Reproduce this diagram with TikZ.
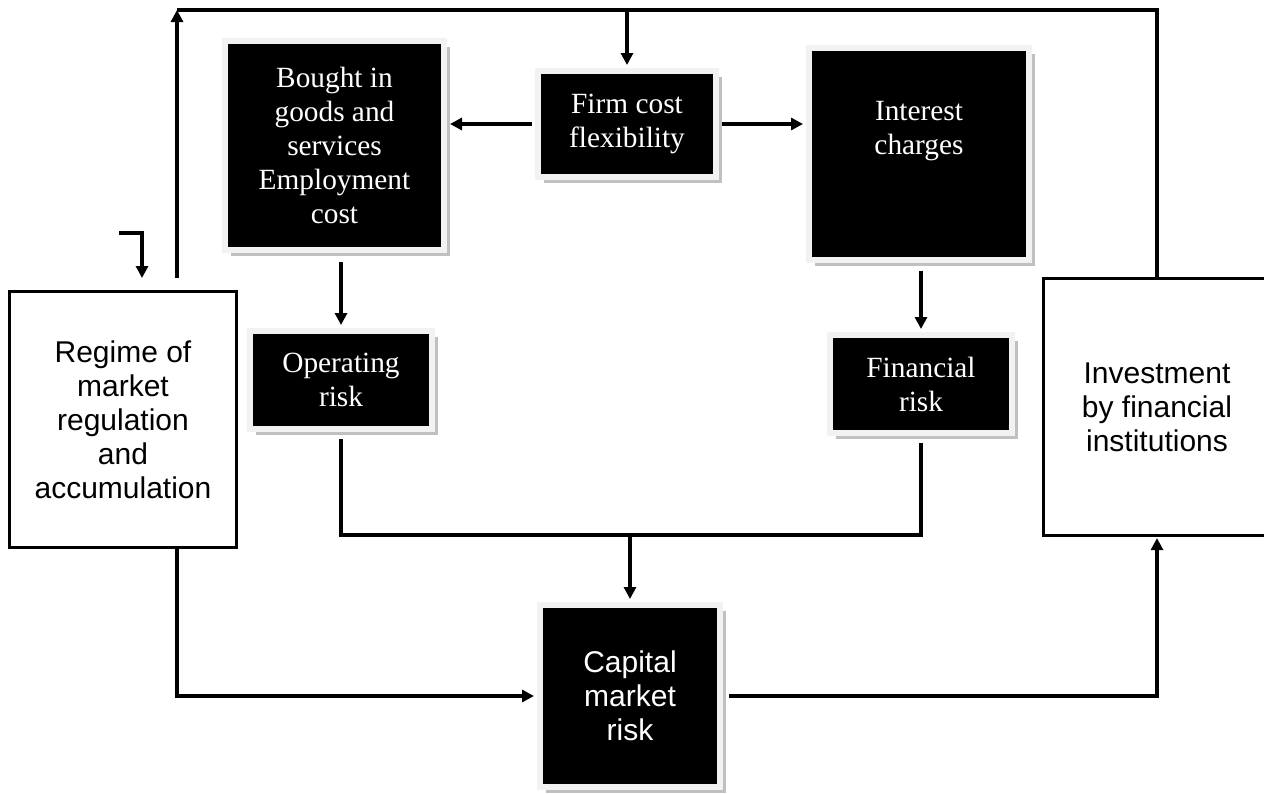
\documentclass[tikz,border=0pt]{standalone}
\usepackage{fontspec}
\setmainfont{Liberation Serif}
\setsansfont{Liberation Sans}
\usepackage{xcolor}
\usepackage{tikz}
\usetikzlibrary{arrows.meta}
\usetikzlibrary{shadows}
\usetikzlibrary{calc}
\newdimen\px
\px=0.75pt
\definecolor{framegray}{RGB}{242,242,242}
\definecolor{shadegray}{RGB}{192,192,192}

\begin{document}
\begin{tikzpicture}[x=0.75pt,y=-0.75pt,
	line/.style={line width=2.4pt},
	arr/.style={line width=2.4pt,-{Triangle[length=9pt,width=9pt]}},
	arrb/.style={arr,shorten >=3\px},
	seriftext/.style={text=white,align=center,font=\rmfamily\fontsize{22}{25.5}\selectfont},
	blackbox/.style={fill=black,draw=framegray,line width=4.5pt,
		drop shadow={shadow xshift=4.5pt,shadow yshift=-4.5pt,fill=shadegray,opacity=1}},
	serifbox/.style={blackbox,seriftext},
	sansbox/.style={blackbox,text=white,align=center,font=\sffamily\fontsize{22.5}{25.5}\selectfont},
	whitebox/.style={draw=black,line width=2.4pt,fill=white,align=center,font=\sffamily\fontsize{22.5}{25.5}\selectfont}]

	\useasboundingbox (0,0) rectangle (1264,793);

	% black boxes
	\node [serifbox,minimum width=219\px,minimum height=209\px] (bought) at (334.5,145.5) {Bought in\\goods and\\services\\Employment\\cost};
	\node [serifbox,minimum width=178\px,minimum height=106\px] (firm) at (627,124) {Firm cost\\flexibility};
	\node [serifbox,minimum width=220\px,minimum height=212\px] (intr) at (919,154) {};
	\node [seriftext] (intrtext) at (919,131) {Interest\\charges};
	\node [serifbox,minimum width=182\px,minimum height=98\px] (oprisk) at (341,380) {Operating\\risk};
	\node [serifbox,minimum width=182\px,minimum height=98\px] (finrisk) at (921,384) {Financial\\risk};
	\node [sansbox,minimum width=180\px,minimum height=182\px] (cmrisk) at (630,696) {Capital\\market\\risk};

	% white boxes
	\node [whitebox,minimum width=227\px,minimum height=256\px] (regime) at (123,419.5) {Regime of\\market\\regulation\\and\\accumulation};
	\node [whitebox,minimum width=227\px,minimum height=257\px] (invest) at (1157,407) {Investment\\by financial\\institutions};

	\coordinate [] (topL) at (177,10);
	\coordinate [] (topR) at (1157,10);
	\coordinate [] (regUp) at (177,278);
	\coordinate [] (loopA) at (119,233);
	\coordinate [] (loopB) at (142,278);
	\coordinate [] (join) at (630,535);

	\draw[line] (invest.north) -- (topR) -- (topL);
	\draw[arr] (regUp) -- (topL);
	\draw[arr] (loopA) -| (loopB);
	\draw[arrb] (firm.north |- topL) -- (firm.north);

	\draw[arrb,shorten <=3\px] (firm.west) -- (firm.west -| bought.east);
	\draw[arrb,shorten <=3\px] (firm.east) -- (firm.east -| intr.west);
	\draw[arrb,shorten <=9\px] (bought.south -| oprisk.north) -- (oprisk.north);
	\draw[arrb,shorten <=8\px] (intr.south -| finrisk.north) -- (finrisk.north);

	\draw[line,shorten <=7\px,shorten >=7\px] (oprisk.south) |- (join) -| (finrisk.south);
	\draw[arrb] (join) -- (cmrisk.north);

	\draw[arrb] (regime.south -| regUp) |- (cmrisk.west);
	\draw[arr,shorten <=6\px,shorten >=1\px] (cmrisk.east) -| (invest.south);
\end{tikzpicture}
\end{document}
